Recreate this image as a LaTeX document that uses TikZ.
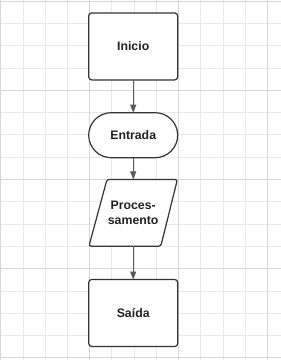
\documentclass[tikz,border=0pt]{standalone}
\usepackage{fontspec}
\setmainfont{Liberation Sans}
\usetikzlibrary{arrows.meta}
\definecolor{gridlight}{HTML}{E8E8E8}
\definecolor{griddark}{HTML}{D6D6D6}
\definecolor{edge}{HTML}{333333}
\definecolor{arrowc}{HTML}{5A5A5A}
\definecolor{txt}{HTML}{222222}
\begin{document}
\begin{tikzpicture}[x=1pt,y=-1pt,
  shapebox/.style={draw=edge, line width=1.2pt, fill=white, rounded corners=3pt,
    minimum width=89pt, minimum height=67pt, inner sep=0pt, outer sep=0pt,
    font=\fontsize{12.3}{15}\selectfont\bfseries, text=txt, align=center},
  stadium/.style={shapebox, rounded corners=22.5pt, minimum height=45pt},
  ghost/.style={minimum width=89pt, minimum height=67pt, inner sep=0pt, outer sep=0pt,
    font=\fontsize{12.3}{15}\selectfont\bfseries, text=txt, align=center},
  flow/.style={draw=arrowc, line width=1pt, -{Triangle[length=8pt,width=6pt]}}]
\useasboundingbox (0,0) rectangle (281,360);
\fill[white] (0,0) rectangle (281,360);
% grid
\foreach \k in {0,...,12} \draw[gridlight, line width=0.7pt] ({0.7+22.22*\k},0) -- ({0.7+22.22*\k},360);
\foreach \k in {0,...,16} \draw[gridlight, line width=0.7pt] (0,{1+22.3*\k}) -- (281,{1+22.3*\k});
\foreach \k in {0,4,8,12} \draw[griddark, line width=0.7pt] ({0.7+22.22*\k},0) -- ({0.7+22.22*\k},360);
\foreach \k in {0,4,8,12,16} \draw[griddark, line width=0.7pt] (0,{1+22.3*\k}) -- (281,{1+22.3*\k});
% shapes
\node[shapebox] (inicio) at (133.2,46.4) {Inicio};
\node[stadium] (entrada) at (133.2,135.2) {Entrada};
\draw[draw=edge, line width=1.2pt, fill=white, rounded corners=2.5pt]
  (107,179.4) -- (177.4,179.4) -- (160.8,246.3) -- (88.9,246.3) -- cycle;
\node[ghost] (proc) at (133.2,212.9) {Proces-\\samento};
\node[shapebox] (saida) at (133.2,313) {Saída};
% connectors
\draw[flow] (inicio.south) -- (entrada.north);
\draw[flow] (entrada.south) -- (proc.north);
\draw[flow] (proc.south) -- (saida.north);
\end{tikzpicture}
\end{document}
